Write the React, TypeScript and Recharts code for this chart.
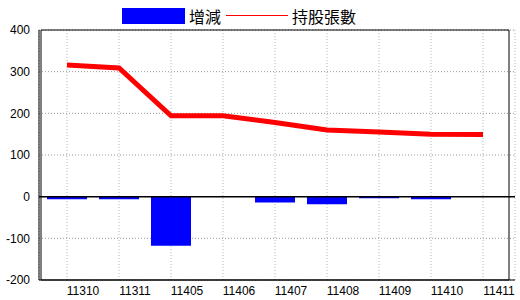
import { Bar, CartesianGrid, ComposedChart, Line, ReferenceArea, ReferenceLine, XAxis, YAxis } from 'recharts';

const months = ['11310', '11311', '11405', '11406', '11407', '11408', '11409', '11410', '11411'];
const change: (number | null)[] = [-6, -6, -118, 0, -14, -18, -4, -6, null];
const holding = [316, 309, 194, 194, 178, 160, 155, 150, 149];
const yTicks = [-200, -100, 0, 100, 200, 300, 400];

const rows = months.map((m, i) => ({ month: m, change: change[i], holding: holding[i] }));

const AXIS_FONT = '"Liberation Sans", Arial, sans-serif';
const CJK_FONT = '"Noto Sans CJK TC", "Noto Sans CJK SC", sans-serif';

function MonthTick({ x, y, payload }: any) {
  return (
    <text x={x + 16} y={y + 4} textAnchor="middle" dominantBaseline="middle" fontSize={12} fontFamily={AXIS_FONT} fill="#000">
      {payload.value}
    </text>
  );
}

function Legend() {
  return (
    <div style={{ position: 'absolute', left: 0, top: 0, width: 520, height: 30, fontFamily: CJK_FONT, fontSize: 16 }}>
      <div style={{ position: 'absolute', left: 122, top: 8, width: 63, height: 16, background: '#0000ff' }} />
      <div style={{ position: 'absolute', left: 189, top: 4, lineHeight: '24px' }}>增減</div>
      <div style={{ position: 'absolute', left: 226, top: 15, width: 62, height: 1, background: '#ff0000' }} />
      <div style={{ position: 'absolute', left: 292, top: 4, lineHeight: '24px' }}>持股張數</div>
    </div>
  );
}

export default function App() {
  return (
    <div style={{ position: 'absolute', left: 0, top: 0, width: 520, height: 300, background: '#fff' }}>
      <ComposedChart width={520} height={300} data={rows} margin={{ top: 30, right: 5, bottom: 0, left: 0 }}>
        <CartesianGrid horizontal={false} stroke="#a8b8c8" strokeDasharray="1 2" />
        <CartesianGrid vertical={false} stroke="#999999" strokeDasharray="1 2" />
        <XAxis
          dataKey="month"
          height={20}
          padding={{ left: 2, right: 6 }}
          axisLine={{ stroke: '#000' }}
          tickLine={false}
          tick={<MonthTick />}
          interval={0}
        />
        <YAxis
          width={39}
          domain={[-200, 400]}
          ticks={yTicks}
          allowDataOverflow
          axisLine={{ stroke: '#000' }}
          tickLine={false}
          tick={{ fontSize: 12, fontFamily: AXIS_FONT, fill: '#000' }}
          tickMargin={3}
        />
        <ReferenceArea y1={-200} y2={400} stroke="#000" fill="none" fillOpacity={0} ifOverflow="visible" />
        <Bar dataKey="change" fill="#0000ff" barSize={40} isAnimationActive={false} />
        <ReferenceLine y={0} stroke="#000" strokeWidth={1.5} />
        <Line
          dataKey="holding"
          type="linear"
          stroke="#ff0000"
          strokeWidth={5}
          dot={false}
          activeDot={false}
          isAnimationActive={false}
        />
      </ComposedChart>
      <Legend />
    </div>
  );
}
